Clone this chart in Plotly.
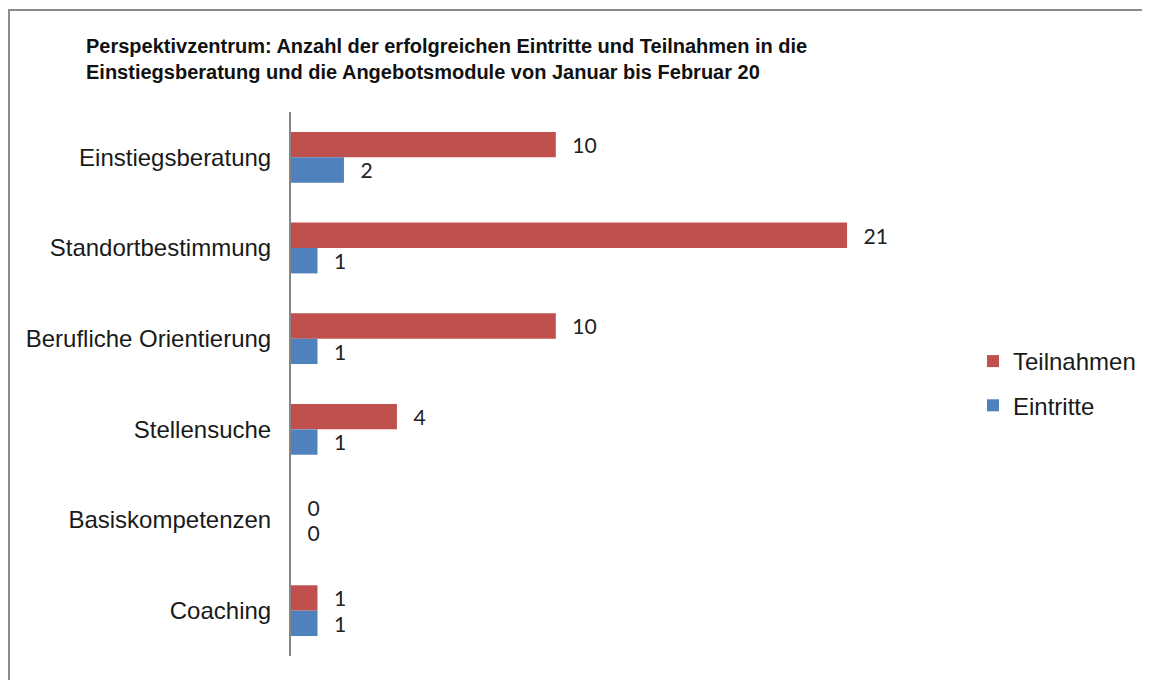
import plotly.graph_objects as go

categories = ["Einstiegsberatung", "Standortbestimmung", "Berufliche Orientierung",
              "Stellensuche", "Basiskompetenzen", "Coaching"]
teilnahmen = [10, 21, 10, 4, 0, 1]
eintritte = [2, 1, 1, 1, 0, 1]

title_lines = ["Perspektivzentrum: Anzahl der erfolgreichen Eintritte und Teilnahmen in die",
               "Einstiegsberatung und die Angebotsmodule von Januar bis Februar 20"]

W, H = 1150, 680
L, R, T, B = 283, 205, 104, 32
pw, ph = W - L - R, H - T - B

label_font = dict(family="Lato, Carlito, sans-serif", size=25, color="#222222")
pad = "\u00a0\u00a0\u2009"

fig = go.Figure()
fig.add_trace(go.Bar(
    y=categories, x=teilnahmen, name="Teilnahmen", orientation="h",
    marker=dict(color="#C0504D", line=dict(width=0)),
    text=[f"{pad}{v}" for v in teilnahmen], textposition="outside",
    textfont=label_font, cliponaxis=False, legendgroup="a",
))
fig.add_trace(go.Bar(
    y=categories, x=eintritte, name="Eintritte", orientation="h",
    marker=dict(color="#4F81BD", line=dict(width=0)),
    text=[f"{pad}{v}" for v in eintritte], textposition="outside",
    textfont=label_font, cliponaxis=False, legendgroup="b",
))

# outer frame like the Excel chart area
fig.add_shape(type="rect", xref="paper", yref="paper",
              x0=(1 - L) / pw, x1=(W + 20 - L) / pw,
              y0=-(B + 20) / ph, y1=(H - B - 2) / ph,
              line=dict(color="#8c8c8c", width=2), layer="below")

fig.update_layout(
    width=W, height=H,
    margin=dict(l=L, r=R, t=T, b=B, autoexpand=False),
    paper_bgcolor="white", plot_bgcolor="white",
    barmode="group", bargap=0.44, bargroupgap=0,
    font=dict(family="Liberation Sans, Arial, sans-serif", color="#1a1a1a"),
    title=dict(text="<b>" + "<br>".join(title_lines) + "</b>", x=78 / W, xanchor="left",
               xref="container", yref="container", y=1 - 45 / H, yanchor="top",
               font=dict(family="Liberation Sans, Arial, sans-serif", size=20, color="#111111"),
               ),
    showlegend=True,
    legend=dict(x=(965 - L) / pw, xanchor="left", y=(H - B - 375.5) / ph, yanchor="middle",
                traceorder="grouped", tracegroupgap=10,
                font=dict(family="Liberation Sans, Arial, sans-serif", size=24, color="#1a1a1a"),
                bgcolor="rgba(0,0,0,0)"),
)
fig.update_xaxes(visible=False, range=[0, 25], showgrid=False, zeroline=False)
fig.update_yaxes(autorange="reversed", showline=True, linecolor="#868686", linewidth=2,
                 showgrid=False, ticks="", ticklabelstandoff=13,
                 tickfont=dict(family="Liberation Sans, Arial, sans-serif", size=24, color="#1a1a1a"))

fig.write_html("out.html")
